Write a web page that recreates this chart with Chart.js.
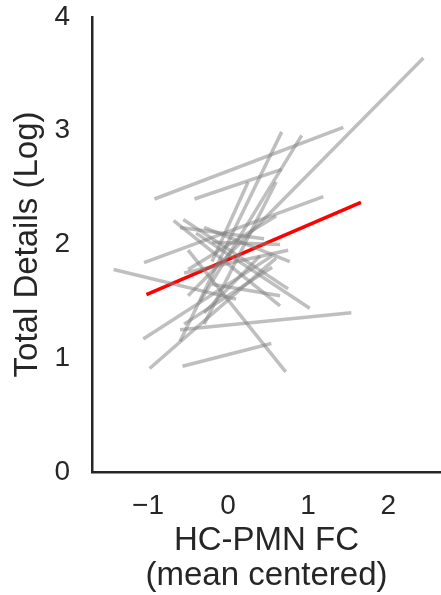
<!DOCTYPE html>
<html>
<head>
<meta charset="utf-8">
<script src="https://cdn.jsdelivr.net/npm/chart.js@4.4.1/dist/chart.umd.min.js"></script>
<style>
    body { margin: 0; background: #fff; }
    #wrap { width: 441px; height: 595px; }
</style>
</head>
<body>
<div id="wrap"><canvas id="slopeChart" width="441" height="595"></canvas></div>
<script>
// per-subject fitted lines (start x/y, end x/y)
const startX = [-0.50, -0.92, -0.42, -0.60, -0.35, -1.05, -1.06, -0.98, -0.60, -0.57, -0.50, -1.43, -0.68,
                -0.40, -0.56, -0.30, -0.55, -0.20, -0.55, -0.30, -0.30, -0.60, -0.20, -0.50, -0.20];
const startY = [1.55, 2.40, 2.40, 1.15, 1.50, 1.84, 1.17, 0.91, 1.25, 0.93, 1.95, 1.78, 2.21,
                2.10, 2.22, 2.15, 1.75, 2.02, 1.30, 1.40, 1.30, 2.15, 1.85, 1.78, 1.65];
const endX = [2.44, 1.44, 0.67, 0.67, 0.92, 1.19, 0.55, 0.60, 1.54, 0.54, 0.72, 0.10, 0.65,
              1.02, 0.75, 0.77, 0.75, 0.65, 0.55, 0.40, 0.60, 0.45, 0.25, 0.60, 0.65];
const endY = [3.64, 3.03, 2.66, 2.99, 2.96, 2.42, 1.90, 1.88, 1.40, 1.13, 0.88, 1.52, 1.46,
              1.44, 1.61, 1.85, 1.95, 2.00, 1.80, 1.90, 2.55, 2.05, 2.55, 2.25, 1.55];

// group-level fit
const fitX = [-1.02, 1.66];
const fitY = [1.56, 2.37];

const xTicks = [-1, 0, 1, 2];
const yTicks = [0, 1, 2, 3, 4];

const ink = '#262626';
const font = "'Liberation Sans', Arial, sans-serif";

const datasets = startX.map(function(x0, i) {
    return {
        data: [{ x: x0, y: startY[i] }, { x: endX[i], y: endY[i] }],
        showLine: true,
        borderColor: 'rgba(128, 128, 128, 0.5)',
        borderWidth: 3.5,
        pointRadius: 0
    };
});
datasets.push({
    data: fitX.map(function(x, i) { return { x: x, y: fitY[i] }; }),
    showLine: true,
    borderColor: '#ff0000',
    borderWidth: 3.5,
    pointRadius: 0
});

new Chart(document.getElementById('slopeChart'), {
    type: 'scatter',
    data: { datasets: datasets },
    options: {
        responsive: false,
        animation: false,
        devicePixelRatio: 1,
        layout: { padding: { top: 17, left: 0, right: 0, bottom: 0 } },
        plugins: {
            legend: { display: false },
            tooltip: { enabled: false }
        },
        scales: {
            x: {
                type: 'linear',
                min: -1.7,
                max: 2.66,
                grid: { display: false },
                border: { display: true, color: ink, width: 2.5 },
                afterBuildTicks: function(scale) {
                    scale.ticks = xTicks.map(function(v) { return { value: v }; });
                },
                afterFit: function(scale) {
                    scale.height = 123;
                    scale.paddingLeft = 0;
                    scale.paddingRight = 0;
                },
                ticks: {
                    color: ink,
                    padding: 9,
                    font: { family: font, size: 28 },
                    callback: function(v) { return v < 0 ? '\u2212' + Math.abs(v) : String(v); }
                },
                title: {
                    display: true,
                    text: ['HC-PMN FC', '(mean centered)'],
                    color: ink,
                    font: { family: font, size: 33, lineHeight: 1.06 },
                    padding: { top: 0, bottom: 2 }
                }
            },
            y: {
                type: 'linear',
                min: 0,
                max: 4,
                grid: { display: false },
                border: { display: true, color: ink, width: 2.5 },
                afterBuildTicks: function(scale) {
                    scale.ticks = yTicks.map(function(v) { return { value: v }; });
                },
                afterFit: function(scale) {
                    scale.width = 92;
                    scale.paddingTop = 0;
                    scale.paddingBottom = 0;
                },
                ticks: {
                    color: ink,
                    padding: 14,
                    font: { family: font, size: 28 }
                },
                title: {
                    display: true,
                    text: 'Total Details (Log)',
                    color: ink,
                    font: { family: font, size: 33 },
                    padding: { top: 8, bottom: 0 }
                }
            }
        }
    }
});
</script>
</body>
</html>
